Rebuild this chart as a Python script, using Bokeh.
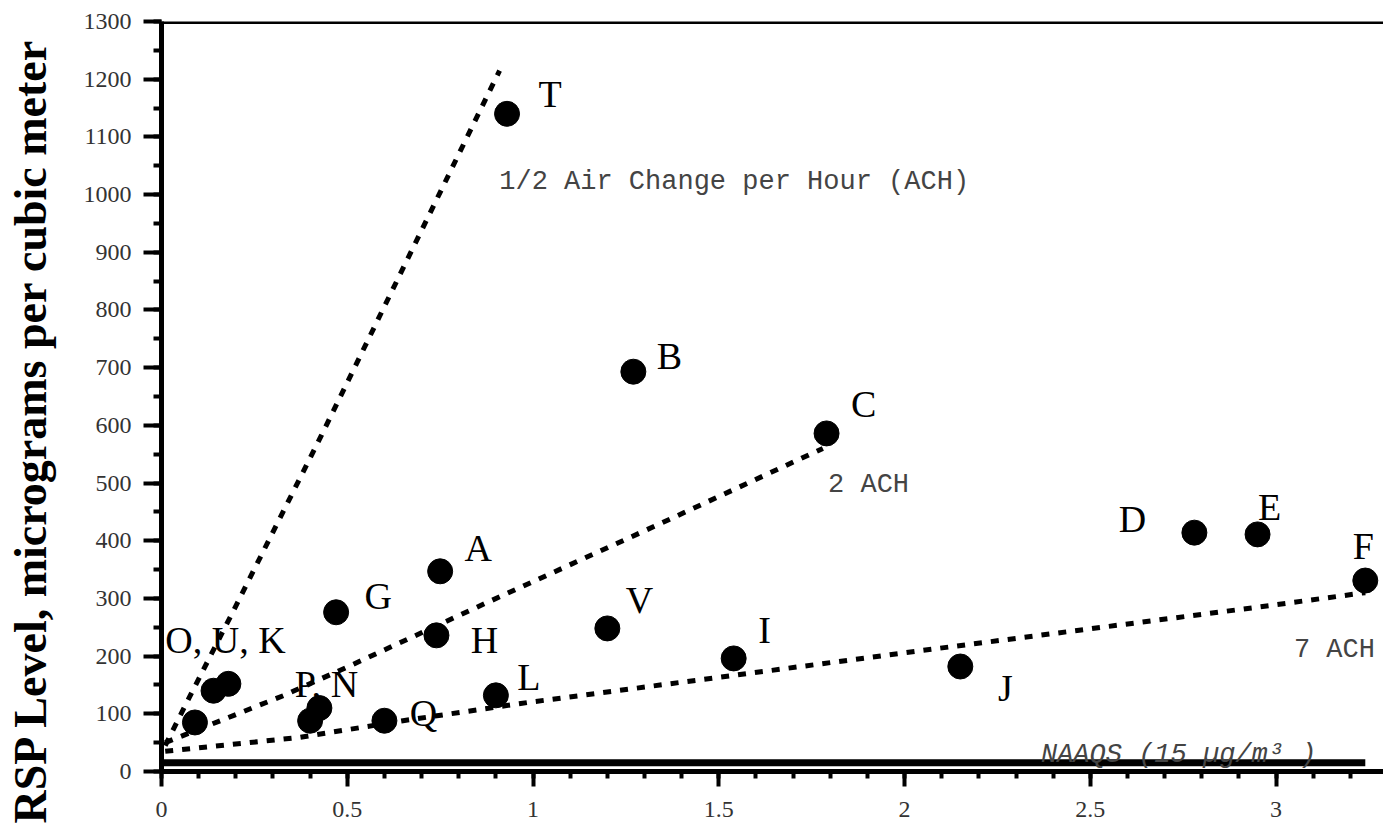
from bokeh.plotting import figure
from bokeh.models import (ColumnDataSource, Range1d, SingleIntervalTicker,
                          NumeralTickFormatter, Span, Title)
from bokeh.core.properties import value
from bokeh.embed import file_html
from bokeh.resources import INLINE

# ---- data ----
names = ["T", "B", "C", "A", "G", "H", "O", "U", "K", "P", "N",
         "Q", "L", "V", "I", "J", "D", "E", "F"]
smoking_x = [0.93, 1.27, 1.79, 0.75, 0.47, 0.74, 0.09, 0.14, 0.18, 0.40, 0.425,
             0.60, 0.90, 1.20, 1.54, 2.15, 2.78, 2.95, 3.24]
rsp_y = [1140, 693, 586, 347, 276, 236, 85, 140, 152, 88, 110,
         88, 132, 248, 196, 182, 414, 411, 331]
point_labels = ["T", "B", "C", "A", "G", "H", "", "O, U, K", "", "", "P, N",
                "Q", "L", "V", "I", "J", "D", "E", "F"]

half_ach_x = [0.01, 0.08, 0.19, 0.43, 0.91]
half_ach_y = [45, 135, 274, 582, 1215]
two_ach_x = [0.01, 0.33, 0.51, 0.87, 1.33, 1.78]
two_ach_y = [50, 132, 184, 291, 426, 560]
seven_ach_x = [0.01, 0.37, 0.65, 0.99, 1.58, 2.05, 2.94, 3.24]
seven_ach_y = [35, 59, 88, 120, 170, 210, 284, 310]

naaqs_level = 15
naaqs_x = [0.0, 3.24]

line_notes = ["1/2 Air Change per Hour (ACH)", "2 ACH", "7 ACH"]
line_note_x = [0.909, 1.794, 3.048]
line_note_y = [1021, 496, 210]

y_title = "RSP Level, micrograms per cubic meter"

# ---- label offsets (screen px) ----
label_dx = [43, 36, 37, 38, 42, 48, 0, 12, 0, 0, 7, 39, 33, 32, 31, 45, -62, 12, -2]
label_dy = [20, 16, 29, 23, 16, -5, 0, 51, 0, 0, 24, 8, 18, 28, 28, -21, 14, 27, 35]

p = figure(width=1383, height=826, output_backend="svg", toolbar_location=None,
           x_range=Range1d(0, 3.289), y_range=Range1d(0, 1300),
           min_border_left=161, min_border_right=0, min_border_top=21,
           min_border_bottom=55)
p.outline_line_color = None
p.grid.visible = False
p.background_fill_color = "white"
p.border_fill_color = "white"

serif = "Liberation Serif"
mono = "Liberation Mono"

# axes
p.xaxis.ticker = SingleIntervalTicker(interval=0.5, num_minor_ticks=5)
p.xaxis.formatter = NumeralTickFormatter(format="0.[0]")
p.yaxis.ticker = SingleIntervalTicker(interval=100, num_minor_ticks=2)
for ax in (p.xaxis[0], p.yaxis[0]):
    ax.axis_line_width = 5
    ax.axis_line_color = "black"
    ax.major_tick_in = 0
    ax.minor_tick_in = 0
    ax.major_tick_line_width = 4
    ax.minor_tick_line_width = 4
    ax.major_tick_line_color = "black"
    ax.minor_tick_line_color = "black"
    ax.major_label_text_font = serif
    ax.major_label_text_font_size = "24px"
    ax.major_label_text_color = "#333333"
p.xaxis.major_tick_out = 15
p.xaxis.minor_tick_out = 7
p.xaxis.major_label_standoff = 15
p.yaxis.major_tick_out = 18
p.yaxis.minor_tick_out = 8
p.yaxis.major_label_standoff = 12

# spacer between tick labels and the y title
p.add_layout(Title(text=" ", text_font_size="2px", standoff=20), "left")
# y axis title
p.add_layout(Title(text=y_title, align="left", offset=-52, vertical_align="middle",
                   text_font=serif, text_font_style="bold",
                   text_font_size="46px", text_color="black", standoff=0), "left")

# top frame line
p.add_layout(Span(location=1300, dimension="width", line_color="black", line_width=5))

# NAAQS line
p.line(naaqs_x, [naaqs_level, naaqs_level], line_color="black", line_width=7)

# ACH lines
for lx, ly in ((half_ach_x, half_ach_y), (two_ach_x, two_ach_y), (seven_ach_x, seven_ach_y)):
    p.line(lx, ly, line_color="black", line_width=5, line_dash="8 9")

# point labels
src = ColumnDataSource(dict(x=smoking_x, y=rsp_y, t=point_labels,
                            dx=label_dx, dy=[-d for d in label_dy]))
p.text(x="x", y="y", text="t", x_offset="dx", y_offset="dy", source=src,
       text_font=value(serif), text_font_size="38px", text_color="black",
       text_align="center", text_baseline="middle")

# points
p.scatter(x="x", y="y", source=src, size=25, color="black")

# line notes
nsrc = ColumnDataSource(dict(x=line_note_x, y=line_note_y, t=line_notes))
p.text(x="x", y="y", text="t", source=nsrc, text_font=value(mono),
       text_font_size="27px", text_color="#444444", text_align="left",
       text_baseline="alphabetic")

p.text(x=[2.367], y=[naaqs_level + 13], text=["NAAQS  (15 \u00b5g/m\u00b3 )"],
       text_font=value(mono), text_font_style="italic", text_font_size="27px",
       text_color="#444444", text_align="left", text_baseline="alphabetic")

open("out.html", "w").write(file_html(p, INLINE))
